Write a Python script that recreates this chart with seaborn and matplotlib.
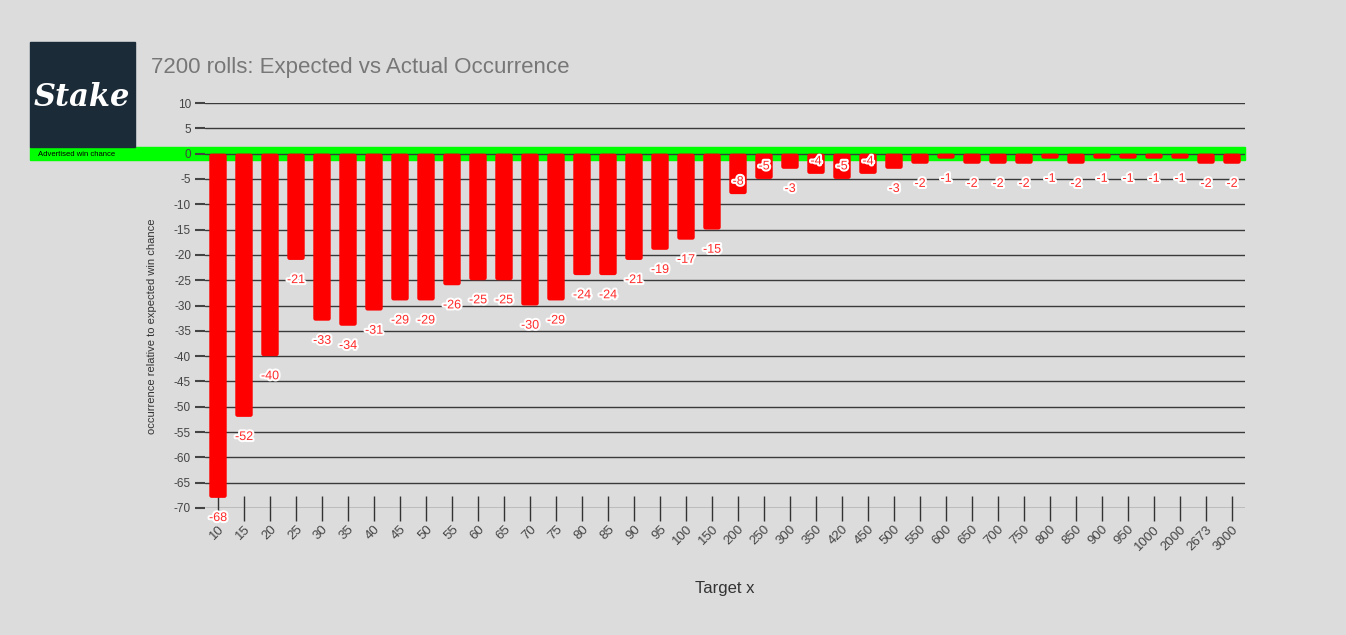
import numpy as np
import pandas as pd
import seaborn as sns
import matplotlib.pyplot as plt
import matplotlib.patheffects as pe
from matplotlib.patches import Rectangle, FancyBboxPatch

# target multipliers and deviation from expected occurrence
targets = ["10", "15", "20", "25", "30", "35", "40", "45", "50", "55",
           "60", "65", "70", "75", "80", "85", "90", "95", "100", "150",
           "200", "250", "300", "350", "420", "450", "500", "550", "600", "650",
           "700", "750", "800", "850", "900", "950", "1000", "2000", "2673", "3000"]
deviation = [-68, -52, -40, -21, -33, -34, -31, -29, -29, -26,
             -25, -25, -30, -29, -24, -24, -21, -19, -17, -15,
             -8, -5, -3, -4, -5, -4, -3, -2, -1, -2,
             -2, -2, -1, -2, -1, -1, -1, -1, -2, -2]
y_ticks = list(range(10, -75, -5))

df = pd.DataFrame({"target": targets, "deviation": deviation})

sns.set_theme(style="white")
plt.rcParams["font.family"] = ["Liberation Sans", "DejaVu Sans"]
plt.rcParams["axes.unicode_minus"] = False

bg = "#dcdcdc"
W, H = 1346, 635
fig = plt.figure(figsize=(W / 100, H / 100), dpi=100, facecolor=bg)
ax = fig.add_axes([205 / W, 1 - 508 / H, (1245 - 205) / W, (508 - 103) / H])
ax.set_facecolor("none")

# green "advertised win chance" band, under everything in the axes
fig.add_artist(Rectangle((30 / W, 1 - 160 / H), (1245 - 30) / W, 13 / H,
                         transform=fig.transFigure, color="#00ff00", zorder=-1))
fig.text(38 / W, 1 - 154 / H, "Advertised win chance", fontsize=5.5,
         color="black", va="center", ha="left")

sns.barplot(data=df, x="target", y="deviation", order=targets, color="red",
            saturation=1, width=0.67, ax=ax, zorder=3)

# swap plain rectangles for slightly rounded ones
for bar in list(ax.patches):
    x0, y0 = bar.get_x(), bar.get_y()
    w, h = bar.get_width(), bar.get_height()
    bottom = min(y0, y0 + h)
    rb = FancyBboxPatch((x0, bottom), w, abs(h),
                        boxstyle="round,pad=0,rounding_size=0.09",
                        mutation_aspect=5.1, facecolor="red",
                        edgecolor="none", zorder=3)
    bar.remove()
    ax.add_patch(rb)

for i, v in enumerate(deviation):
    if -8 <= v <= -4:
        off = 9
    else:
        off = -14.5
    ax.annotate(f"{v}", (i, v), xytext=(0, off), textcoords="offset points",
                ha="center", va="center", fontsize=9, color="#ff2a2a",
                zorder=5,
                path_effects=[pe.withStroke(linewidth=3, foreground="white")])

ax.set_ylim(-70, 10)
ax.set_xlim(-0.5, len(targets) - 0.5)
ax.set_yticks(y_ticks)
ax.yaxis.grid(True, color="#3a3a3a", lw=1)
ax.set_axisbelow(True)
for s in ax.spines.values():
    s.set_visible(False)

ax.tick_params(axis="y", left=True, length=7, width=1.5, color="#444",
               labelsize=8.5, labelcolor="#444", pad=3)
ax.tick_params(axis="x", bottom=True, direction="inout", length=18, width=1,
               color="#333", labelsize=9.5, labelcolor="#444", pad=2)
plt.setp(ax.get_xticklabels(), rotation=45, ha="right", rotation_mode="anchor")
ax.set_xlabel("")
ax.set_ylabel("")

fig.text(725 / W, 1 - 588 / H, "Target x", fontsize=12, color="#333",
         ha="center", va="center")
fig.text(152 / W, 1 - 326 / H, "occurrence relative to expected win chance",
         fontsize=8, color="#333", rotation=90, ha="center", va="center")
fig.text(151 / W, 1 - 67 / H, "7200 rolls: Expected vs Actual Occurrence",
         fontsize=16, color="#777", ha="left", va="center")

# logo block
fig.add_artist(Rectangle((30 / W, 1 - 147 / H), 105 / W, 105 / H,
                         transform=fig.transFigure, color="#1b2b38", zorder=1))
fig.text(82 / W, 1 - 97 / H, "Stake", fontsize=22, color="white",
         fontstyle="italic", fontweight="bold", family="DejaVu Serif",
         ha="center", va="center", zorder=2)

fig.savefig("out.png", dpi=100, facecolor=bg)
